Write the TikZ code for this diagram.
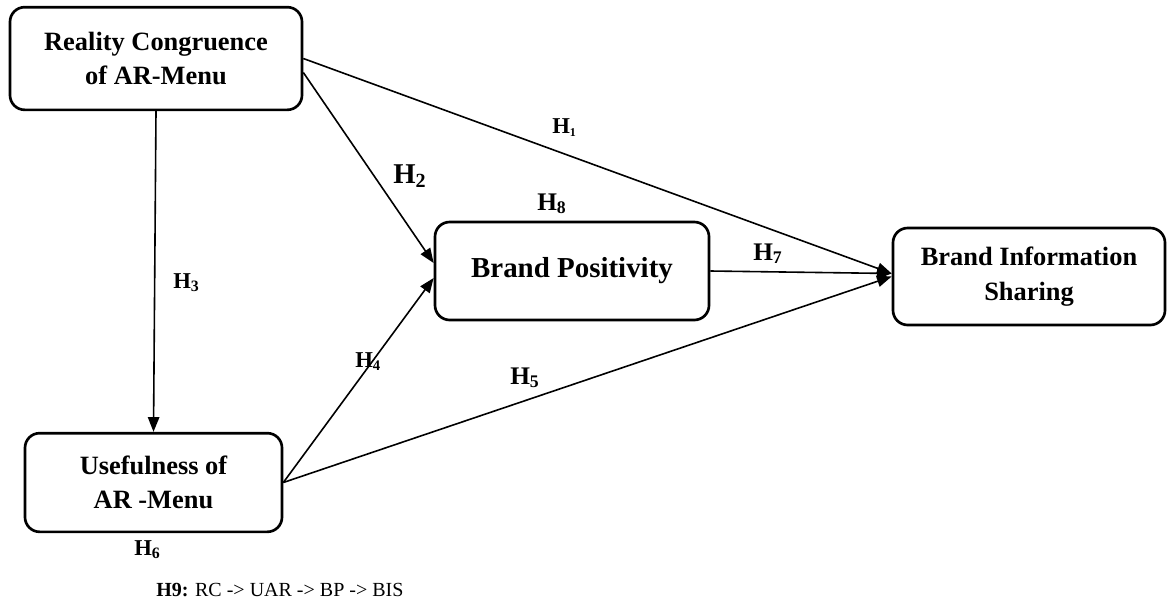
\documentclass[tikz,border=0pt]{standalone}
\usepackage{fontspec}
\setmainfont{Liberation Serif}
\usetikzlibrary{positioning,calc,arrows.meta}

\begin{document}
\begin{tikzpicture}[
    x=0.75pt, y=-0.75pt,
    box/.style={draw, line width=2pt, rounded corners=11pt, align=center,
        font=\fontsize{19.8}{26}\selectfont\bfseries},
    arrow/.style={-{Triangle[length=11pt,width=8.5pt]}, line width=1.2pt},
    hyp/.style={anchor=base west, inner sep=0pt, font=\fontsize{17}{20}\selectfont\bfseries}
]
\useasboundingbox (0,0) rectangle (1167,600);
\node[box, minimum width=219pt, minimum height=77pt] (rc) at (156,58.5) {Reality Congruence\\of AR-Menu};
\node[box, minimum width=192.75pt, minimum height=74pt] (uar) at (153.5,482.5) {Usefulness of\\AR -Menu};
\node[box, minimum width=205.5pt, minimum height=73.5pt, font=\fontsize{21.7}{26}\selectfont\bfseries] (bp) at (572,271) {Brand Positivity};
\node[box, minimum width=204pt, minimum height=72.75pt] (bis) at (1029,276.5) {Brand Information\\Sharing};
% paths
\draw[arrow] (rc.south) -- (uar.north);
\draw[arrow] (rc.east) -- ($(bis.west)+(0,-3)$);
\draw[arrow] ($(rc.east)+(0,14)$) -- ($(bp.west)+(0,-8)$);
\draw[arrow] (uar.east) -- ($(bp.west)+(0,7)$);
\draw[arrow] (bp.east) -- ($(bis.west)+(0,-3)$);
\draw[arrow] (uar.east) -- ($(bis.west)+(0,0)$);
% hypotheses
\node[hyp] (h1) at (552,133) {H\textsubscript{\fontsize{9}{9}\selectfont 1}};
\node[hyp, font=\fontsize{21.5}{24}\selectfont\bfseries] (h2) at (393,183) {H\textsubscript{2}};
\node[hyp] (h3) at (173,288) {H\textsubscript{3}};
\node[hyp] (h4) at (355,367) {H\textsubscript{\fontsize{11}{11}\selectfont 4}};
\node[hyp, font=\fontsize{19}{22}\selectfont\bfseries] (h5) at (510,384) {H\textsubscript{5}};
\node[hyp] (h6) at (134,555) {H\textsubscript{6}};
\node[hyp, font=\fontsize{19}{22}\selectfont\bfseries] (h7) at (753,260) {H\textsubscript{7}};
\node[hyp, font=\fontsize{19}{22}\selectfont\bfseries] (h8) at (537,210) {H\textsubscript{8}};
\node[anchor=base west, inner sep=0pt, font=\fontsize{15}{18}\selectfont] (h9) at (156,596) {\textbf{H9:} RC -> UAR -> BP -> BIS};
\end{tikzpicture}
\end{document}
